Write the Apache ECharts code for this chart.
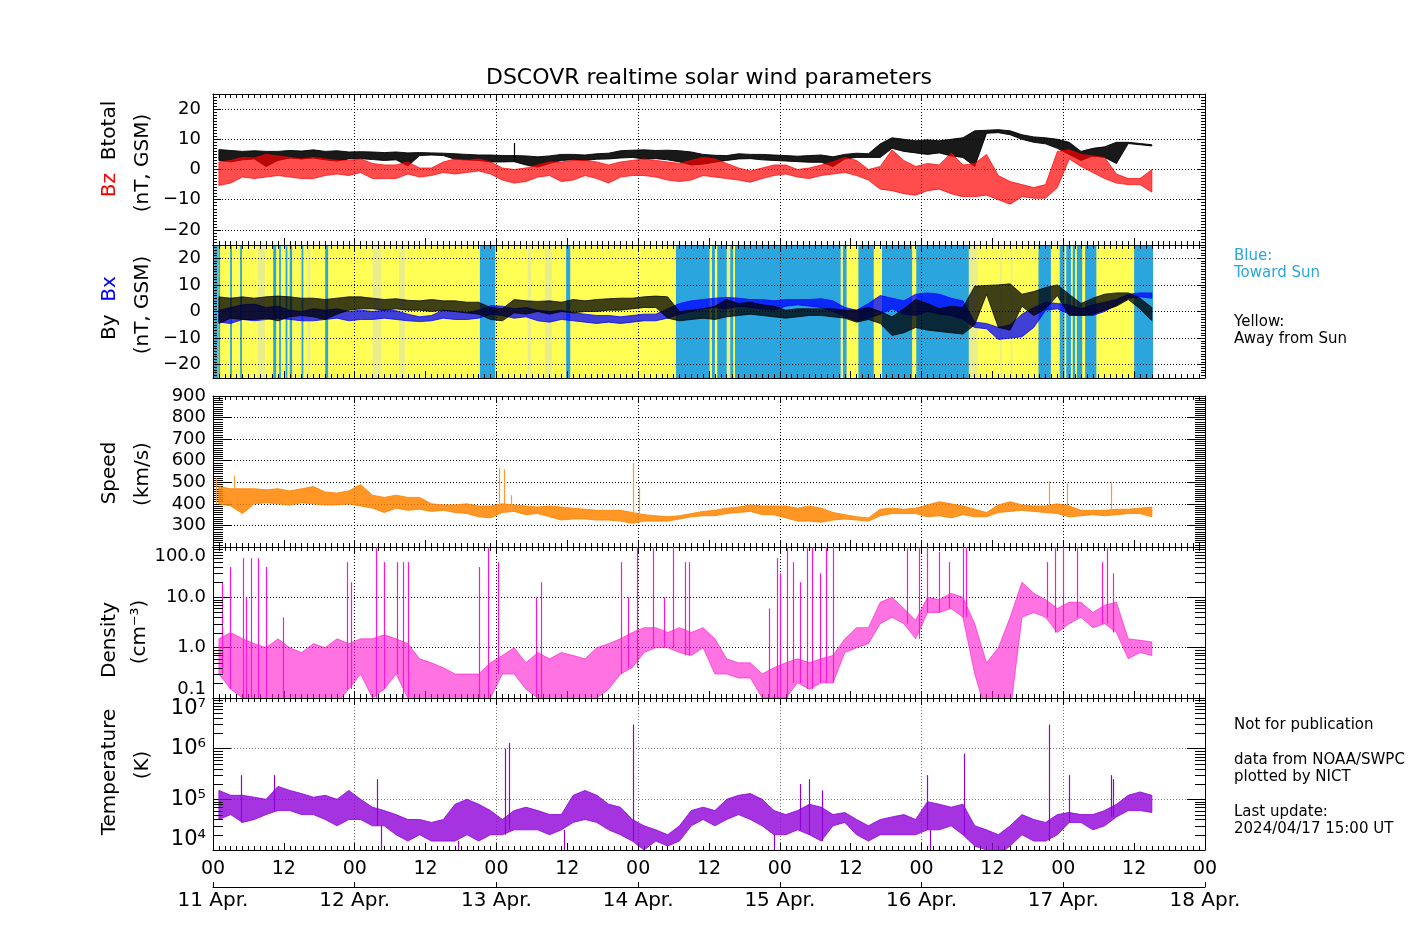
<!DOCTYPE html>
<html>
<head>
<meta charset="utf-8">
<script src="https://cdn.jsdelivr.net/npm/echarts/dist/echarts.min.js"></script>
<style>
html,body{margin:0;padding:0;background:#fff;}
#chart{width:1417px;height:944px;}
</style>
</head>
<body>
<div id="chart"></div>
<script>
// ---------------- DATA (2-hour bins starting 2024-04-11 00 UT; [low, high] envelope per bin) ----------------
const HOURS_PER_BIN = 2;
const dayLabels = ['11 Apr.', '12 Apr.', '13 Apr.', '14 Apr.', '15 Apr.', '16 Apr.', '17 Apr.', '18 Apr.'];

const btotalLo = [3.0,2.5,3.2,3.5,1.0,3.0,3.8,3.5,3.8,3.2,2.8,3.5, 3.6,3.3,3.0,3.2,1.2,4.6,4.8,4.6,3.4,3.2,3.0,2.5, 2.5,2.6,1.5,0.8,2.0,3.0,3.2,3.0,3.4,3.5,3.8,4.0, 3.5,3.6,3.2,2.5,1.5,1.8,2.4,3.0,3.5,3.6,3.2,3.0, 2.8,2.6,2.4,2.4,1.0,3.5,4.0,4.0,4.0,7.0,6.0,5.5, 5.0,5.5,4.5,4.0,1.0,12.0,12.2,11.5,10.0,9.0,8.5,7.0, 5.0,3.0,4.5,4.0,2.0,8.6,8.2,7.8];
const btotalHi = [6.6,6.3,6.0,6.2,6.0,6.0,6.3,6.1,6.5,6.0,6.2,5.8, 5.9,5.8,5.6,5.8,5.5,5.6,5.5,5.4,5.2,5.0,4.8,4.8, 4.6,4.6,4.5,4.2,4.5,5.0,5.0,4.8,5.2,5.4,6.2,6.4, 6.5,6.3,6.4,6.2,5.8,5.0,4.7,4.6,5.2,5.0,5.0,4.8, 4.6,4.4,4.6,4.8,4.2,5.0,5.4,5.2,8.5,10.5,10.0,9.5, 9.8,9.5,10.0,10.5,12.8,13.0,13.2,12.8,11.5,10.8,10.5,10.0, 9.0,6.0,7.0,7.5,9.0,9.0,8.6,8.2];
const btotalSpikes = [[50.9, 8.8]];

const bzLo = [-5.3,-4.5,-2.5,-3.0,-2.5,-2.0,-2.5,-3.0,-3.0,-2.0,-1.5,-2.0, -1.0,-3.0,-3.0,-3.0,-1.5,-2.5,-2.0,-1.0,-1.5,-1.0,-0.5,-1.5, -3.5,-4.5,-4.0,-2.5,-2.0,-4.0,-3.5,-2.0,-3.0,-4.5,-2.5,-2.0, -2.0,-2.5,-3.5,-4.0,-3.5,-2.0,-2.5,-3.0,-3.5,-4.2,-3.0,-2.0, -1.5,-2.5,-3.0,-2.0,-1.5,-1.0,-2.0,-3.5,-6.5,-7.0,-8.0,-8.5, -7.0,-6.5,-8.0,-9.0,-9.0,-8.5,-10.0,-11.5,-9.0,-9.5,-9.5,-6.0, 3.5,1.0,-1.0,-3.0,-4.5,-5.0,-5.0,-7.5];
const bzHi = [2.5,3.0,4.0,3.8,5.0,4.5,4.0,3.5,4.0,3.5,3.0,3.0, 3.5,2.0,1.5,1.5,2.5,0.5,0.5,2.5,3.5,3.0,3.5,2.5, 0.5,0.0,0.5,1.5,2.5,2.5,3.0,3.0,2.5,1.5,2.5,3.0, 3.5,3.0,2.5,2.0,3.0,4.0,3.5,2.0,0.5,-0.5,0.5,1.5, 1.5,0.0,0.5,1.5,2.5,4.0,3.0,0.0,1.0,6.5,3.0,1.0, 2.0,1.5,5.5,1.5,2.0,5.0,-2.0,-4.0,-5.0,-6.0,-5.0,6.0, 6.5,5.0,4.5,4.0,-1.5,-3.0,-3.0,0.0];

const byLo = [-4.5,-2.5,-3.0,-3.0,-2.5,-3.5,-2.0,-1.5,-2.0,-3.0,-1.0,0.5, 1.0,1.0,0.5,1.0,0.5,0.5,0.0,0.5,0.0,-0.5,-1.0,-3.0, -3.5,-0.5,-1.0,0.0,-1.0,0.0,-0.5,0.0,0.0,0.5,0.5,1.0, 1.5,1.5,-2.5,-3.5,-3.0,-2.5,-3.0,-2.0,-1.5,-1.0,-1.5,-2.0, -2.5,-2.0,-1.5,-1.5,-2.0,-2.5,-4.0,-3.0,-4.5,-9.0,-8.0,-6.0, -7.0,-7.5,-8.0,-8.5,-5.0,6.5,-6.0,-7.0,2.0,-1.5,1.0,6.0, -1.5,-1.5,-1.0,0.5,2.0,4.5,1.0,-3.5];
const byHi = [5.5,5.0,5.5,5.0,5.5,5.8,5.5,5.0,5.0,4.5,5.0,5.5, 5.5,5.0,4.5,4.8,4.2,4.0,4.5,4.0,4.0,3.5,3.5,1.5, 1.0,4.5,4.0,3.8,4.0,3.5,4.5,4.0,4.5,4.8,5.0,5.0, 5.5,5.8,5.5,0.0,0.5,1.0,2.0,4.5,3.0,3.5,2.5,2.0, 0.5,1.0,1.0,1.0,1.0,0.5,0.5,1.5,0.0,-2.0,1.0,4.5, 3.0,1.0,2.0,1.5,9.5,9.8,10.0,10.4,6.5,7.5,9.0,10.0, 6.5,3.0,5.0,6.5,7.0,7.0,5.0,1.5];

const bxLo = [-4.0,-4.5,-3.0,-3.5,-3.0,-2.5,-3.0,-3.5,-3.5,-3.0,-2.5,-3.5, -3.0,-3.0,-2.5,-3.0,-3.5,-3.8,-3.5,-2.5,-3.0,-3.0,-2.5,-1.0, -1.5,-2.5,-2.0,-3.5,-4.0,-3.0,-3.5,-4.0,-4.5,-4.0,-4.5,-4.0, -3.5,-3.5,-2.5,-1.0,0.0,1.0,1.5,1.0,2.0,1.5,1.0,0.5, 2.0,2.5,2.0,1.5,0.0,-2.0,-3.5,-2.5,-1.0,1.0,-1.0,-1.5, 0.0,-1.0,-1.5,-3.0,-6.0,-6.5,-10.5,-10.0,-9.5,-6.0,0.5,1.0, -1.0,-1.5,-1.5,0.0,2.5,5.0,5.5,5.0];
const bxHi = [0.5,1.5,2.5,2.8,1.5,2.0,0.5,0.0,1.0,0.5,1.0,0.0, 0.5,0.0,0.5,0.3,-1.0,-2.0,-1.5,0.5,0.0,-0.5,0.5,2.2, 2.0,1.0,1.5,0.5,0.0,0.5,-0.5,-1.0,-1.5,-1.5,-2.0,-1.5, -1.0,-1.0,1.0,3.0,4.0,4.5,5.0,5.3,5.0,4.5,4.5,4.0, 4.5,4.5,4.5,4.8,4.0,1.5,0.5,3.0,6.0,5.0,4.0,6.5, 7.0,6.5,5.0,4.0,-4.0,-4.5,-6.0,-5.0,-1.0,1.5,3.5,3.0, 2.5,1.0,2.5,3.5,4.5,6.5,7.0,7.0];

// Sector polarity (hours from 11 Apr 00 UT): whole span is "away", listed intervals are "toward" or mixed
const sectorSpan = [0, 159.2];
const towardSun = [[0.2,0.8],[0.9,1.2],[2.9,3.2],[4.6,4.9],[10.2,10.7],[11.2,11.5],[12.3,12.6],[13.0,13.4],[15.0,15.3],[19.0,19.5],[45.2,47.8],[59.8,60.5],[78.4,84.1],[84.5,85.0],[85.4,87.0],[87.6,88.1],[88.4,106.3],[106.7,107.3],[109.3,111.9],[113.3,118.4],[119.1,128.0],[139.8,141.9],[143.4,144.2],[144.5,145.3],[145.6,146.0],[146.3,147.2],[147.7,149.6],[156.0,159.2]];
const mixedSector = [[7.6,8.8],[16.0,16.5],[27.0,28.5],[31.5,32.5],[53.3,53.9],[56.2,57.4],[80.2,81.1],[87.0,87.6],[106.3,106.7],[128.0,129.5],[133.3,133.6],[135.1,135.4]];

const speedLo = [400,390,355,400,405,400,395,405,400,395,395,400, 390,380,360,380,370,375,365,370,360,355,340,335, 360,365,350,355,340,325,330,330,325,325,320,310, 320,320,320,330,340,345,345,355,360,365,350,350, 335,320,320,315,325,330,325,320,345,355,355,355, 340,345,335,350,340,340,360,365,370,365,360,355, 340,345,350,345,350,355,355,340];
const speedHi = [480,470,470,470,465,470,460,470,480,455,450,460, 490,440,430,440,430,430,400,395,395,400,390,390, 400,395,390,385,390,385,380,375,370,370,370,360, 350,345,340,345,355,365,370,380,385,395,390,390, 390,380,390,380,360,350,340,335,375,380,375,380, 395,410,400,390,375,360,395,410,395,390,390,400, 390,370,370,370,375,375,380,385];
const speedSpikes = [[0.5,520],[3.5,530],[48.5,565],[49.2,560],[50.5,440],[71.2,590],[72.1,480],[141.5,505],[144.6,495],[152.0,500]];

const densityLo = [0.3,0.15,0.1,0.08,0.08,0.08,0.08,0.1,0.08,0.08,0.08,0.15, 0.3,0.1,0.15,0.3,0.1,0.05,0.1,0.08,0.08,0.08,0.08,0.1, 0.3,0.3,0.15,0.1,0.08,0.1,0.1,0.08,0.1,0.15,0.3,0.4, 0.8,1.0,1.0,0.8,0.7,1.0,0.3,0.3,0.25,0.25,0.1,0.1, 0.1,0.2,0.15,0.2,0.2,0.8,1.0,1.2,3.0,4.0,3.0,1.5, 5.0,5.0,6.0,4.0,0.3,0.05,0.1,0.05,4.0,5.0,4.0,2.0, 3.0,4.0,2.5,3.0,2.0,0.6,0.8,0.7];
const densityHi = [1.5,2.0,1.5,1.2,1.0,1.5,1.0,0.8,1.2,1.0,1.5,1.2, 1.5,1.5,1.8,1.5,1.2,0.6,0.5,0.4,0.3,0.3,0.3,0.5, 0.7,1.0,0.5,0.8,0.6,0.8,0.7,0.6,1.0,1.2,1.5,2.0, 2.5,2.5,2.0,2.5,2.0,2.5,1.5,0.6,0.5,0.5,0.3,0.4, 0.5,0.6,0.5,0.6,0.7,1.5,2.5,2.5,8.0,10.0,6.0,3.5, 10.0,9.0,12.0,10.0,3.0,0.5,1.0,4.0,20.0,12.0,9.0,6.0, 8.0,8.0,5.0,7.0,8.0,1.5,1.4,1.3];
const densitySpikes = [[1.6,20],[2.9,40],[5.0,60],[5.6,10],[6.5,60],[7.7,60],[8.9,40],[11.9,4],[22.7,50],[23.3,20],[27.6,150],[29.0,50],[31.2,50],[32.1,50],[33.0,50],[45.0,40],[46.5,200],[48.3,50],[54.7,10],[55.6,20],[69.1,50],[70.3,10],[71.8,200],[74.5,200],[76.3,10],[77.9,200],[80.0,50],[80.6,50],[94.1,6],[95.5,60],[96.0,30],[97.2,100],[98.2,50],[99.4,20],[100.6,150],[101.4,100],[102.8,30],[103.8,100],[105.0,200],[117.5,200],[119.5,100],[120.9,100],[122.9,80],[124.6,50],[127.1,200],[127.6,100],[141.2,50],[142.6,100],[144.0,100],[146.3,200],[150.5,50],[151.4,200],[152.5,30]];

const tempLo = [40e3,50e3,35e3,40e3,50e3,60e3,60e3,50e3,50e3,40e3,30e3,40e3, 40e3,30e3,30e3,20e3,15e3,20e3,15e3,15e3,15e3,20e3,15e3,20e3, 20e3,25e3,25e3,25e3,20e3,25e3,35e3,40e3,35e3,25e3,20e3,15e3, 10e3,15e3,12e3,15e3,30e3,40e3,30e3,40e3,50e3,40e3,30e3,20e3, 20e3,25e3,20e3,15e3,30e3,35e3,20e3,15e3,20e3,20e3,20e3,20e3, 25e3,25e3,30e3,20e3,12e3,10e3,8e3,12e3,20e3,15e3,15e3,20e3, 35e3,35e3,25e3,30e3,45e3,60e3,60e3,55e3];
const tempHi = [150e3,120e3,120e3,110e3,100e3,180e3,150e3,130e3,110e3,120e3,100e3,150e3, 100e3,70e3,60e3,50e3,40e3,40e3,35e3,40e3,80e3,100e3,80e3,60e3, 40e3,60e3,70e3,60e3,50e3,50e3,120e3,150e3,120e3,80e3,70e3,40e3, 30e3,25e3,20e3,30e3,60e3,70e3,60e3,100e3,120e3,130e3,100e3,60e3, 50e3,60e3,80e3,70e3,50e3,55e3,40e3,30e3,40e3,45e3,50e3,40e3, 90e3,80e3,70e3,80e3,30e3,25e3,20e3,30e3,50e3,40e3,35e3,50e3, 55e3,50e3,50e3,60e3,80e3,120e3,140e3,120e3];
const tempSpikes = [[4.8,3.0e5],[10.4,3.0e5],[27.8,2.5e5],[28.5,5e3],[41.5,6e3],[49.5,1.0e6],[50.1,1.3e6],[59.5,8e3],[71.2,3.0e6],[95.0,6e3],[99.4,2.0e5],[100.9,2.5e5],[103.1,1.5e5],[121.0,3.0e5],[121.5,6e3],[127.2,8.0e5],[141.5,3.0e6],[145.0,3.0e5],[152.0,3.0e5],[152.5,2.5e5]];

// ---------------- helpers ----------------
function spikeData(spikes, lo) {
  return spikes.map(s => [s[0], lo[Math.min(lo.length - 1, Math.floor(s[0] / HOURS_PER_BIN))], s[1]]);
}
const FONT = 'DejaVu Sans';
const MINUS = s => String(s).replace('-', '\u2212');
const SUP = {'0':'\u2070','1':'\u00b9','2':'\u00b2','3':'\u00b3','4':'\u2074','5':'\u2075','6':'\u2076','7':'\u2077','8':'\u2078','9':'\u2079'};

const GRIDS = [
  {top: 94, height: 151},
  {top: 245, height: 133},
  {top: 396, height: 151},
  {top: 547, height: 151},
  {top: 698, height: 152}
];
const GRID_COLORS = ['#000', '#000', '#000', '#000', '#777'];

const xAxes = [];
GRIDS.forEach((g, gi) => {
  xAxes.push({
    type: 'value', gridIndex: gi, position: 'bottom', min: 0, max: 168, interval: 12,
    axisLine: {show: true, onZero: false, lineStyle: {color: '#000', width: 1}},
    axisTick: {show: true, inside: true, length: 7, lineStyle: {color: '#000'}},
    minorTick: {show: true, splitNumber: 12, length: 4, lineStyle: {color: '#000'}},
    splitLine: {show: false},
    axisLabel: {show: gi === 4, color: '#000', fontFamily: FONT, fontSize: 19, margin: 10,
      showMinLabel: true, showMaxLabel: true,
      formatter: v => (Math.round(v) % 24 === 0 ? '00' : '12')}
  });
  xAxes.push({
    type: 'value', gridIndex: gi, position: 'top', min: 0, max: 168, interval: 24,
    axisLine: {show: true, onZero: false, lineStyle: {color: '#000', width: 1}},
    axisTick: {show: true, inside: true, length: 7, lineStyle: {color: '#000'}},
    minorTick: {show: true, splitNumber: 24, length: 4, lineStyle: {color: '#000'}},
    splitLine: {show: true, lineStyle: {color: GRID_COLORS[gi], width: 1, type: [1, 2]}},
    axisLabel: {show: false}
  });
});
// date axis below the bottom panel
xAxes.push({
  type: 'value', gridIndex: 4, position: 'bottom', offset: 37, min: 0, max: 168, interval: 24,
  axisLine: {show: true, onZero: false, lineStyle: {color: '#000', width: 1}},
  axisTick: {show: true, inside: true, length: 5, lineStyle: {color: '#000'}},
  splitLine: {show: false},
  axisLabel: {show: true, color: '#000', fontFamily: FONT, fontSize: 20, margin: 4,
    showMinLabel: true, showMaxLabel: true,
    formatter: v => dayLabels[Math.round(v / 24)]}
});

function yPair(gi, spec) {
  const common = {type: spec.type || 'value', gridIndex: gi, min: spec.min, max: spec.max};
  if (spec.interval) common.interval = spec.interval;
  if (spec.type === 'log') common.logBase = 10;
  const left = Object.assign({}, common, {
    position: 'left',
    axisLine: {show: true, onZero: false, lineStyle: {color: '#000', width: 1}},
    axisTick: {show: true, inside: true, length: spec.tick, lineStyle: {color: '#000'}},
    minorTick: {show: !!spec.minor, splitNumber: spec.minor || 5, length: spec.minorLen, lineStyle: {color: '#000'}},
    splitLine: {show: true, lineStyle: {color: GRID_COLORS[gi], width: 1, type: [1, 2]}},
    axisLabel: Object.assign({show: true, color: '#000', fontFamily: FONT, fontSize: 18, margin: spec.margin,
      formatter: spec.fmt}, spec.label || {})
  });
  const right = Object.assign({}, common, {
    position: 'right',
    axisLine: {show: true, onZero: false, lineStyle: {color: '#000', width: 1}},
    axisTick: {show: true, inside: true, length: spec.tick, lineStyle: {color: '#000'}},
    minorTick: {show: !!spec.minor, splitNumber: spec.minor || 5, length: spec.minorLen, lineStyle: {color: '#000'}},
    splitLine: {show: false},
    axisLabel: {show: false}
  });
  return [left, right];
}
const yAxes = [].concat(
  yPair(0, {min: -25, max: 25, tick: 8, minor: 10, minorLen: 4, margin: 12, fmt: MINUS,
    label: {showMinLabel: false, showMaxLabel: false}}),
  yPair(1, {min: -25, max: 25, tick: 8, minor: 10, minorLen: 4, margin: 12, fmt: MINUS,
    label: {showMinLabel: false, showMaxLabel: false}}),
  yPair(2, {min: 200, max: 900, interval: 100, tick: 18, minor: 10, minorLen: 10, margin: 7, fmt: v => String(v),
    label: {showMinLabel: false}}),
  yPair(3, {type: 'log', min: 0.1, max: 100, tick: 18, minorLen: 10, margin: 7, fmt: v => Number(v).toFixed(1),
    label: {verticalAlignMaxLabel: 'top', verticalAlignMinLabel: 'bottom'}}),
  yPair(4, {type: 'log', min: 1e4, max: 1e7, tick: 18, minorLen: 10, margin: 7,
    fmt: v => '10' + String(Math.round(Math.log10(v))).split('').map(c => SUP[c]).join(''),
    label: {fontSize: 21, verticalAlignMaxLabel: 'top', verticalAlignMinLabel: 'bottom'}})
);

// filled envelope between the per-bin low and high values
function bandSeries(gi, lo, hi, color, opacity) {
  return {type: 'custom', xAxisIndex: 2 * gi, yAxisIndex: 2 * gi, data: [[0, lo[0]]], clip: true, animation: false, silent: true, z: 2,
    itemStyle: {color: color},
    renderItem: (params, api) => {
      const top = [], bottom = [];
      for (let i = 0; i < lo.length; i++) {
        const t = i * HOURS_PER_BIN + 1;
        bottom.push(api.coord([t, lo[i]]));
        top.push(api.coord([t, hi[i]]));
      }
      return {type: 'polygon', shape: {points: bottom.concat(top.reverse())},
        style: {fill: color, opacity: opacity, stroke: color, lineWidth: 1}};
    }};
}
function spikeSeries(gi, data, color) {
  return {type: 'custom', xAxisIndex: 2 * gi, yAxisIndex: 2 * gi, data: data, clip: true, animation: false, silent: true, z: 3,
    itemStyle: {color: color},
    renderItem: (params, api) => {
      const a = api.coord([api.value(0), api.value(1)]);
      const b = api.coord([api.value(0), api.value(2)]);
      const x = Math.round(a[0]) + 0.5;
      return {type: 'line', shape: {x1: x, y1: a[1], x2: x, y2: b[1]}, style: {stroke: color, fill: null, lineWidth: 1.2}};
    }};
}
function logTicks(gi, decades, len) {
  const vals = [];
  decades.forEach(d => { for (let k = 2; k <= 9; k++) vals.push([0, k * d]); });
  return {type: 'custom', xAxisIndex: 2 * gi, yAxisIndex: 2 * gi, data: vals, animation: false, silent: true, z: 4,
    itemStyle: {color: '#000'},
    renderItem: (params, api) => {
      const y = Math.round(api.coord([0, api.value(1)])[1]) + 0.5;
      const cs = params.coordSys;
      return {type: 'group', children: [
        {type: 'line', shape: {x1: cs.x, y1: y, x2: cs.x + len, y2: y}, style: {stroke: '#000', lineWidth: 1}},
        {type: 'line', shape: {x1: cs.x + cs.width - len, y1: y, x2: cs.x + cs.width, y2: y}, style: {stroke: '#000', lineWidth: 1}}
      ]};
    }};
}
const SECTOR_COLORS = ['#ffff55', '#2ba5de', '#eaee8a'];
const sectorData = [[sectorSpan[0], 0, sectorSpan[1], 0]]
  .concat(mixedSector.map(s => [s[0], 0, s[1], 2]))
  .concat(towardSun.map(s => [s[0], 0, s[1], 1]));
const sectorSeries = {
  type: 'custom', xAxisIndex: 2, yAxisIndex: 2, data: sectorData, animation: false, silent: true, clip: true, z: -1,
  renderItem: (params, api) => {
    const cs = params.coordSys;
    const a = api.coord([api.value(0), 0]);
    const b = api.coord([api.value(2), 0]);
    return {type: 'rect', shape: {x: a[0], y: cs.y, width: b[0] - a[0], height: cs.height},
      style: {fill: SECTOR_COLORS[api.value(3)]}};
  }
};

const series = [
  sectorSeries,
  bandSeries(0, btotalLo, btotalHi, '#000000', 0.9),
  spikeSeries(0, spikeData(btotalSpikes, btotalLo), '#000000'),
  bandSeries(0, bzLo, bzHi, '#ff0000', 0.7),
  bandSeries(1, bxLo, bxHi, '#0000ff', 0.75),
  bandSeries(1, byLo, byHi, '#000000', 0.75),
  bandSeries(2, speedLo, speedHi, '#ff8400', 0.85),
  spikeSeries(2, spikeData(speedSpikes, speedLo), '#ff9a30'),
  bandSeries(3, densityLo, densityHi, '#ff14cf', 0.6),
  spikeSeries(3, spikeData(densitySpikes, densityLo), '#ff14cf'),
  logTicks(3, [0.1, 1, 10], 10),
  bandSeries(4, tempLo, tempHi, '#9000d8', 0.8),
  spikeSeries(4, spikeData(tempSpikes, tempLo), '#9000d8'),
  logTicks(4, [1e4, 1e5, 1e6], 10)
];

function vText(x, y, text, rich) {
  return {type: 'text', x: x, y: y, rotation: Math.PI / 2, silent: true,
    style: {text: text, font: '20px "' + FONT + '"', fill: '#000', textAlign: 'center', textVerticalAlign: 'middle',
      align: 'center', verticalAlign: 'middle', rich: rich || {}}};
}
function hText(x, y, text, color, size, align) {
  return {type: 'text', x: x, y: y, silent: true,
    style: {text: text, font: size + 'px "' + FONT + '"', fill: color, textAlign: align || 'left', textVerticalAlign: 'middle',
      align: align || 'left', verticalAlign: 'middle'}};
}
const richR = {r: {fill: '#ff0000', color: '#ff0000', fontFamily: FONT, fontSize: 20}, k: {fill: '#000', color: '#000', fontFamily: FONT, fontSize: 20}};
const richB = {b: {fill: '#0000ff', color: '#0000ff', fontFamily: FONT, fontSize: 20}, k: {fill: '#000', color: '#000', fontFamily: FONT, fontSize: 20}};

const graphics = [
  hText(709, 78, 'DSCOVR realtime solar wind parameters', '#000', 22, 'center'),
  vText(110, 149, '{r|Bz}{k|  Btotal}', richR),
  vText(143, 163, '(nT, GSM)'),
  vText(110, 308, '{k|By  }{b|Bx}', richB),
  vText(143, 305, '(nT, GSM)'),
  vText(110, 473, 'Speed'),
  vText(143, 474, '(km/s)'),
  vText(110, 640, 'Density'),
  vText(140, 632, '(cm\u207b\u00b3)'),
  vText(110, 772, 'Temperature'),
  vText(143, 765, '(K)'),
  hText(1234, 256, 'Blue:', '#2ba5de', 15),
  hText(1234, 273, 'Toward Sun', '#2ba5de', 15),
  hText(1234, 322, 'Yellow:', '#000', 15),
  hText(1234, 339, 'Away from Sun', '#000', 15),
  hText(1234, 725, 'Not for publication', '#000', 15),
  hText(1234, 760, 'data from NOAA/SWPC', '#000', 15),
  hText(1234, 777, 'plotted by NICT', '#000', 15),
  hText(1234, 812, 'Last update:', '#000', 15),
  hText(1234, 829, '2024/04/17 15:00 UT', '#000', 15)
];

const chart = echarts.init(document.getElementById('chart'), null, {renderer: 'canvas'});
chart.setOption({
  animation: false,
  backgroundColor: '#ffffff',
  textStyle: {fontFamily: FONT},
  grid: GRIDS.map(g => ({left: 213, width: 992, top: g.top, height: g.height, containLabel: false, outerBoundsMode: 'none', show: false})),
  xAxis: xAxes,
  yAxis: yAxes,
  series: series,
  graphic: {elements: graphics}
});
</script>
</body>
</html>
